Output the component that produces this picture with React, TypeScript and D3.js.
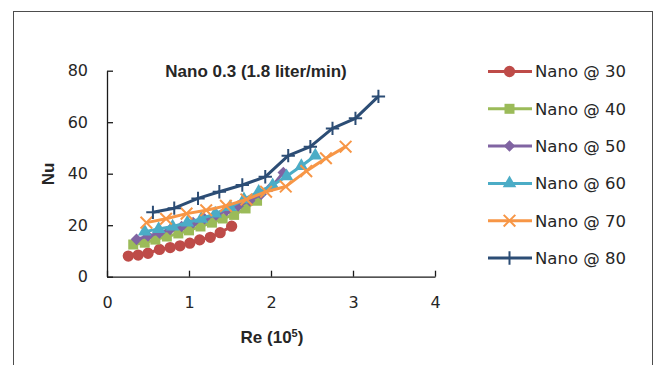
import { useEffect, useRef } from "react";
import * as d3 from "d3";

const width = 654;
const height = 365;
const plot = { left: 107, right: 435, top: 70.7, bottom: 276.7 };

const reTicks = [0, 1, 2, 3, 4];
const nuTicks = [0, 20, 40, 60, 80];

const seriesNames = ["Nano @ 30", "Nano @ 40", "Nano @ 50", "Nano @ 60", "Nano @ 70", "Nano @ 80"];
const seriesColors = ["#BE4B48", "#9BBB59", "#8064A2", "#4BACC6", "#F79646", "#2C4D75"];
const seriesMarkers = ["circle", "square", "diamond", "triangle", "x", "plus"];

// Re (10^5) and Nu for each series
const re30 = [0.26, 0.38, 0.5, 0.64, 0.77, 0.89, 1.01, 1.13, 1.26, 1.38, 1.52];
const nu30 = [8.0, 8.4, 9.1, 10.6, 11.3, 12.0, 13.0, 14.3, 15.3, 17.1, 19.6];

const re40 = [0.32, 0.46, 0.59, 0.73, 0.87, 1.0, 1.14, 1.28, 1.41, 1.55, 1.69, 1.83];
const nu40 = [12.5, 13.2, 14.4, 15.6, 16.8, 18.0, 19.5, 21.0, 22.6, 24.0, 26.5, 29.5];

const re50 = [0.36, 0.5, 0.64, 0.77, 0.91, 1.05, 1.19, 1.33, 1.46, 1.6, 1.74, 1.88, 2.01, 2.15];
const nu50 = [14.5, 15.8, 17.0, 18.3, 19.5, 21.0, 22.5, 24.0, 25.7, 27.5, 29.5, 32.0, 35.0, 40.5];

const re60 = [0.46, 0.63, 0.8, 0.98, 1.15, 1.32, 1.5, 1.67, 1.85, 2.02, 2.19, 2.37, 2.54];
const nu60 = [17.5, 18.5, 19.5, 21.0, 22.5, 24.5, 27.0, 30.0, 33.0, 35.5, 39.0, 43.0, 47.0];

const re70 = [0.48, 0.72, 0.97, 1.21, 1.45, 1.7, 1.94, 2.18, 2.43, 2.67, 2.91];
const nu70 = [21.0, 22.5, 24.5, 25.8, 27.5, 30.0, 33.0, 35.0, 41.0, 46.0, 50.5];

const re80 = [0.56, 0.82, 1.11, 1.37, 1.65, 1.93, 2.21, 2.48, 2.75, 3.03, 3.31];
const nu80 = [25.0, 26.6, 30.4, 33.0, 35.6, 38.8, 47.0, 50.5, 57.6, 61.5, 70.0];

const seriesRe = [re30, re40, re50, re60, re70, re80];
const seriesNu = [nu30, nu40, nu50, nu60, nu70, nu80];

type Point = { re: number; nu: number };

const markerPath = (kind: string) => {
  switch (kind) {
    case "circle":
      return d3.symbol(d3.symbolCircle, 100)();
    case "square":
      return d3.symbol(d3.symbolSquare, 100)();
    case "diamond":
      return d3.symbol(d3.symbolDiamond2, 85)();
    case "triangle":
      return d3.symbol(d3.symbolTriangle, 80)();
    case "x":
      return d3.symbol(d3.symbolX, 90)();
    default:
      return d3.symbol(d3.symbolPlus, 60)();
  }
};

const strokeMarker = (kind: string) => kind === "x" || kind === "plus";

export default function App() {
  const svgRef = useRef<SVGSVGElement | null>(null);

  useEffect(() => {
    if (!svgRef.current) return;
    const svg = d3.select(svgRef.current);

    const x = d3.scaleLinear().domain([0, 4]).range([plot.left, plot.right]);
    const y = d3.scaleLinear().domain([0, 80]).range([plot.bottom, plot.top]);

    // axes
    const yAxis = svg
      .select<SVGGElement>(".y-axis")
      .attr("transform", `translate(${plot.left},0)`)
      .call(
        d3
          .axisLeft(y)
          .tickValues(nuTicks)
          .tickFormat(d3.format("d"))
          .tickSizeInner(-6)
          .tickSizeOuter(0)
          .tickPadding(19),
      );

    const xAxis = svg
      .select<SVGGElement>(".x-axis")
      .attr("transform", `translate(0,${plot.bottom})`)
      .call(
        d3
          .axisBottom(x)
          .tickValues(reTicks)
          .tickFormat(d3.format("d"))
          .tickSizeInner(-6)
          .tickSizeOuter(0)
          .tickPadding(20),
      );

    [yAxis, xAxis].forEach((g) => {
      g.attr("font-family", "'DejaVu Sans', Verdana, sans-serif").attr("font-size", 16);
      g.select(".domain").attr("stroke", "#1a1a1a").attr("stroke-width", 1.3);
      g.selectAll(".tick line").attr("stroke", "#1a1a1a").attr("stroke-width", 1.3);
      g.selectAll(".tick text").attr("fill", "#262626");
    });

    const line = d3
      .line<Point>()
      .x((d) => x(d.re))
      .y((d) => y(d.nu));

    const series = seriesNames.map((name, i) => ({
      name,
      color: seriesColors[i],
      marker: seriesMarkers[i],
      points: seriesRe[i].map((re, j) => ({ re, nu: seriesNu[i][j] })),
    }));

    const groups = svg
      .select<SVGGElement>(".series")
      .selectAll<SVGGElement, (typeof series)[number]>("g")
      .data(series)
      .join("g");

    groups
      .selectAll("path.line")
      .data((d) => [d])
      .join("path")
      .attr("class", "line")
      .attr("fill", "none")
      .attr("stroke", (d) => d.color)
      .attr("stroke-width", 3)
      .attr("stroke-linejoin", "round")
      .attr("d", (d) => line(d.points));

    groups.each(function (s) {
      d3.select(this)
        .selectAll("path.mark")
        .data(s.points)
        .join("path")
        .attr("class", "mark")
        .attr("transform", (d) => `translate(${x(d.re)},${y(d.nu)})`)
        .attr("d", markerPath(s.marker))
        .attr("fill", strokeMarker(s.marker) ? "none" : s.color)
        .attr("stroke", strokeMarker(s.marker) ? s.color : "none")
        .attr("stroke-width", 2);
    });

    // legend
    const legend = svg
      .select<SVGGElement>(".legend")
      .selectAll<SVGGElement, (typeof series)[number]>("g")
      .data(series)
      .join("g")
      .attr("transform", (_, i) => `translate(488,${71.5 + i * 37.3})`);

    legend
      .selectAll("line")
      .data((d) => [d])
      .join("line")
      .attr("x1", 0)
      .attr("x2", 44)
      .attr("stroke", (d) => d.color)
      .attr("stroke-width", 3);

    legend
      .selectAll("path")
      .data((d) => [d])
      .join("path")
      .attr("transform", "translate(21.5,0)")
      .attr("d", (d) => markerPath(d.marker))
      .attr("fill", (d) => (strokeMarker(d.marker) ? "none" : d.color))
      .attr("stroke", (d) => (strokeMarker(d.marker) ? d.color : "none"))
      .attr("stroke-width", 2);

    legend
      .selectAll("text")
      .data((d) => [d])
      .join("text")
      .attr("x", 47)
      .attr("dy", "0.36em")
      .attr("font-family", "'DejaVu Sans', Verdana, sans-serif")
      .attr("font-size", 16.5)
      .attr("fill", "#262626")
      .text((d) => d.name);
  }, []);

  return (
    <svg
      ref={svgRef}
      width={width}
      height={height}
      style={{ position: "absolute", left: 0, top: 0, background: "#fff" }}
    >
      <rect x={13.5} y={11.5} width={639} height={400} fill="#fff" stroke="#4d4d4d" strokeWidth={1} />
      <g className="x-axis" />
      <g className="y-axis" />
      <g className="series" />
      <g className="legend" />
      <text
        x={256}
        y={71}
        dy="0.36em"
        textAnchor="middle"
        fontFamily="'Liberation Sans', Arial, sans-serif"
        fontWeight="bold"
        fontSize={17}
        fill="#262626"
      >
        Nano 0.3 (1.8 liter/min)
      </text>
      <text
        transform="translate(48,174) rotate(-90)"
        dy="0.36em"
        textAnchor="middle"
        fontFamily="'Liberation Sans', Arial, sans-serif"
        fontWeight="bold"
        fontSize={17}
        fill="#262626"
      >
        Nu
      </text>
      <text
        x={272}
        y={337}
        dy="0.36em"
        textAnchor="middle"
        fontFamily="'Liberation Sans', Arial, sans-serif"
        fontWeight="bold"
        fontSize={17}
        fill="#262626"
      >
        Re (10
        <tspan dy="-6" fontSize={11}>
          5
        </tspan>
        <tspan dy="6">)</tspan>
      </text>
    </svg>
  );
}
